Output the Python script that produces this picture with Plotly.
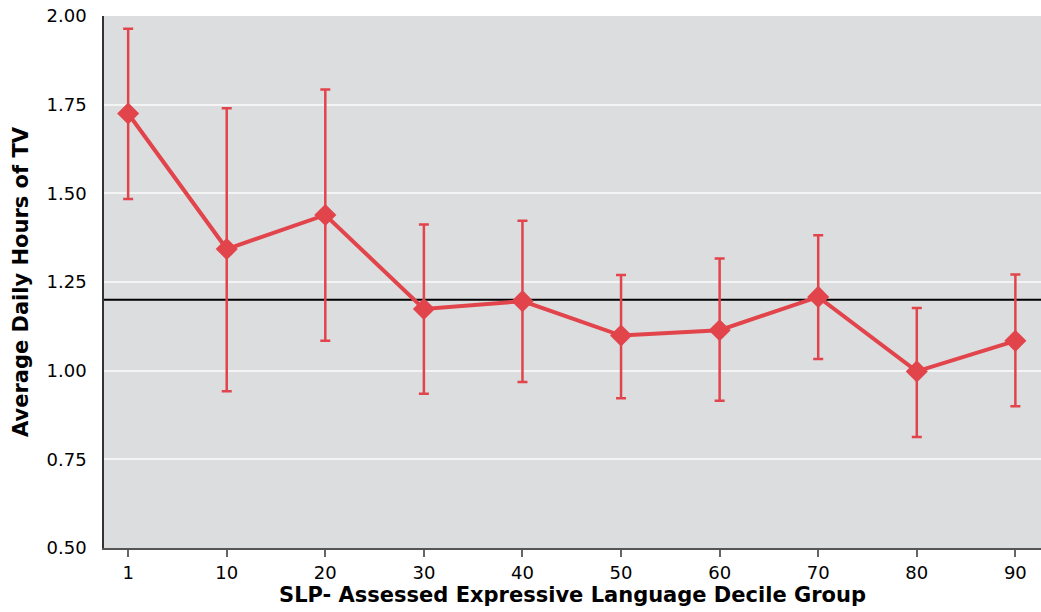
import plotly.graph_objects as go

categories = ["1", "10", "20", "30", "40", "50", "60", "70", "80", "90"]
means = [1.725, 1.343, 1.439, 1.174, 1.196, 1.099, 1.114, 1.208, 0.998, 1.084]
upper = [1.964, 1.740, 1.793, 1.412, 1.423, 1.270, 1.316, 1.382, 1.177, 1.271]
lower = [1.484, 0.942, 1.084, 0.935, 0.968, 0.922, 0.915, 1.033, 0.813, 0.900]
reference_value = 1.20
y_ticks = [0.50, 0.75, 1.00, 1.25, 1.50, 1.75, 2.00]

err_plus = [u - m for u, m in zip(upper, means)]
err_minus = [m - l for m, l in zip(means, lower)]

RED = "#e2444b"

fig = go.Figure()
fig.add_trace(go.Scatter(
    x=categories, y=means, mode="lines+markers",
    line=dict(color=RED, width=4),
    marker=dict(symbol="diamond", size=17, color=RED),
    error_y=dict(type="data", symmetric=False, array=err_plus, arrayminus=err_minus,
                 color=RED, thickness=2.5, width=5),
    showlegend=False, cliponaxis=False,
))
fig.add_shape(type="line", xref="paper", x0=0, x1=1, yref="y",
              y0=reference_value, y1=reference_value,
              line=dict(color="black", width=2), layer="below")

fig.update_layout(
    width=1041, height=612,
    margin=dict(l=104, r=0, t=16, b=64),
    paper_bgcolor="white", plot_bgcolor="#dcdddf",
    font=dict(family="DejaVu Sans, sans-serif", color="black"),
    xaxis=dict(
        type="category", range=[-0.245, 9.26],
        showgrid=False, zeroline=False,
        showline=True, linecolor="#555555", linewidth=2,
        ticks="outside", ticklen=7, tickwidth=1.5, tickcolor="#666666",
        tickfont=dict(size=18),
        title=dict(text="<b>SLP- Assessed Expressive Language Decile Group</b>",
                   font=dict(size=21), standoff=4),
    ),
    yaxis=dict(
        range=[0.5, 2.0], tickvals=y_ticks, ticktext=[f"{v:.2f}" for v in y_ticks],
        showgrid=True, gridcolor="#f4f4f4", gridwidth=2, zeroline=False,
        showline=True, linecolor="#333333", linewidth=1.5,
        ticks="", tickfont=dict(size=18), ticklabelstandoff=12,
        title=dict(text="<b>Average Daily Hours of TV</b>", font=dict(size=21), standoff=12),
    ),
)

fig.write_html(
    "out.html",
    config={"displayModeBar": False},
    post_script="document.body.style.margin='0';document.body.style.overflow='hidden';",
)
